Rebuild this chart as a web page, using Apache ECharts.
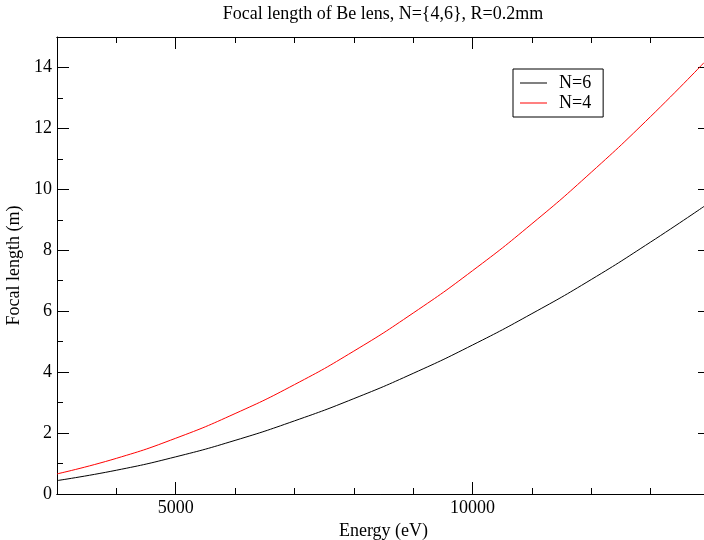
<!DOCTYPE html>
<html>
<head>
<meta charset="utf-8">
<script src="https://cdn.jsdelivr.net/npm/echarts@6/dist/echarts.min.js"></script>
<style>html,body{margin:0;padding:0;background:#fff}#c{width:704px;height:540px}</style>
</head>
<body>
<div id="c"></div>
<script>
var energy = [3000, 4000, 5000, 6000, 7000, 8000, 9000, 10000, 11000, 12000, 13000, 13900];
var focalN6 = [0.44, 0.78, 1.22, 1.76, 2.40, 3.13, 3.96, 4.89, 5.92, 7.04, 8.27, 9.44];
var focalN4 = [0.66, 1.17, 1.83, 2.64, 3.59, 4.69, 5.94, 7.33, 8.87, 10.56, 12.39, 14.16];
var xMajorTicks = [5000, 10000];
var xMinorTicks = [4000, 6000, 7000, 8000, 9000, 11000, 12000, 13000];

var FONT = 'Liberation Serif';
function pairs(xs, ys) { return xs.map(function (x, i) { return [x, ys[i]]; }); }

function xAx(pos, major, showLabel, showName) {
  return {
    type: 'value', position: pos, min: 3000, max: 14000,
    axisLine: { show: true, lineStyle: { color: '#000', width: 1 } },
    axisTick: { show: true, inside: true, length: major ? 12 : 6,
      customValues: major ? xMajorTicks : xMinorTicks, lineStyle: { color: '#000' } },
    axisLabel: { show: showLabel, customValues: xMajorTicks, fontFamily: FONT, fontSize: 18, color: '#000', margin: 5,
      formatter: function (v) { return String(v); } },
    splitLine: { show: false },
    name: showName ? 'Energy (eV)' : '', nameLocation: 'middle', nameGap: 22,
    nameTextStyle: { fontFamily: FONT, fontSize: 18, color: '#000' }
  };
}
function yAx(pos, showLabel, showName) {
  return {
    type: 'value', position: pos, min: 0, max: 15, interval: 2,
    axisLine: { show: true, lineStyle: { color: '#000', width: 1 } },
    axisTick: { show: true, inside: true, length: 12, lineStyle: { color: '#000' } },
    minorTick: { show: true, splitNumber: 2, length: 6, lineStyle: { color: '#000' } },
    axisLabel: { show: showLabel, fontFamily: FONT, fontSize: 18, color: '#000', margin: 5,
      showMaxLabel: false },
    splitLine: { show: false }, minorSplitLine: { show: false },
    name: showName ? 'Focal length (m)' : '', nameLocation: 'middle', nameGap: 30,
    nameTextStyle: { fontFamily: FONT, fontSize: 18, color: '#000' }
  };
}

var chart = echarts.init(document.getElementById('c'), null, { renderer: 'canvas' });
chart.setOption({
  animation: false,
  backgroundColor: '#fff',
  title: {
    text: 'Focal length of Be lens, N={4,6}, R=0.2mm',
    left: 383, top: 5, padding: 0, textAlign: 'center',
    textStyle: { fontFamily: FONT, fontSize: 18, fontWeight: 'normal', color: '#000' }
  },
  grid: { left: 57, top: 37, right: -6, bottom: 46, containLabel: false, outerBoundsMode: 'none' },
  legend: {
    orient: 'vertical', left: 513, top: 69,
    padding: [5, 12, 5, 7], itemGap: 2,
    borderColor: '#000', borderWidth: 1, backgroundColor: '#fff',
    itemWidth: 27, itemHeight: 1, icon: 'rect',
    textStyle: { fontFamily: FONT, fontSize: 18, color: '#000', padding: [0, 0, 0, 7] },
    data: ['N=6', 'N=4']
  },
  xAxis: [xAx('bottom', false, true, true), xAx('bottom', true, false, false),
          xAx('top', false, false, false), xAx('top', true, false, false)],
  yAxis: [yAx('left', true, true), yAx('right', false, false)],
  series: [
    { name: 'N=6', type: 'line', xAxisIndex: 0, yAxisIndex: 0, data: pairs(energy, focalN6),
      smooth: true, showSymbol: false, symbol: 'none', itemStyle: { color: '#000' },
      lineStyle: { color: '#000', width: 1 } },
    { name: 'N=4', type: 'line', xAxisIndex: 0, yAxisIndex: 0, data: pairs(energy, focalN4),
      smooth: true, showSymbol: false, symbol: 'none', itemStyle: { color: '#ff0000' },
      lineStyle: { color: '#ff0000', width: 1 } }
  ]
});
</script>
</body>
</html>
